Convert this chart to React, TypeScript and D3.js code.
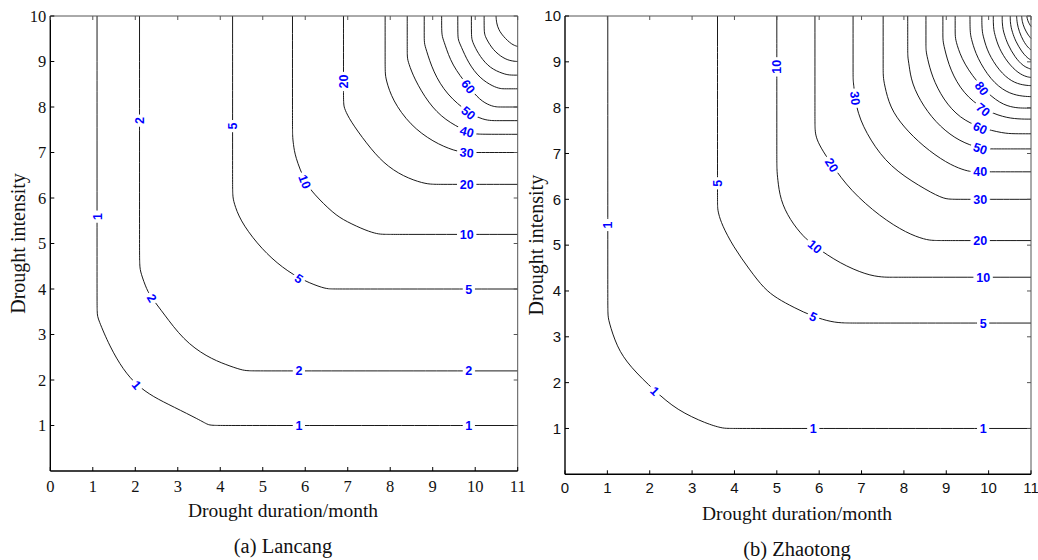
import * as d3 from 'd3'

// tick values shared by both panels
const xTickValues = [0, 1, 2, 3, 4, 5, 6, 7, 8, 9, 10, 11]
const yTickValues = [1, 2, 3, 4, 5, 6, 7, 8, 9, 10]

// (a) Lancang: return period contours, points are [duration, intensity]
const lancangLevels = [1, 2, 5, 10, 20, 30, 40, 50, 60, 70, 80, 90, 100]
const lancangLines: number[][][] = [
  [[1.1, 10], [1.1, 4.0], [1.1, 3.45], [1.12, 3.35], [1.4, 2.73], [1.72, 2.22], [2.03, 1.89], [2.42, 1.63], [2.9, 1.41], [3.52, 1.12], [3.7, 1.02], [3.8, 1.0], [4.3, 1.0], [11, 1.0]],
  [[2.1, 10], [2.1, 5.0], [2.1, 4.5], [2.13, 4.35], [2.27, 3.98], [2.39, 3.8], [2.66, 3.47], [3.13, 2.88], [3.68, 2.51], [4.15, 2.33], [4.5, 2.22], [4.65, 2.2], [5.0, 2.2], [11, 2.2]],
  [[4.29, 10], [4.29, 6.4], [4.29, 6.05], [4.32, 5.9], [4.46, 5.52], [4.86, 5.0], [5.33, 4.56], [5.85, 4.23], [6.35, 4.04], [6.55, 4.0], [6.7, 4.0], [11, 4.0]],
  [[5.7, 10], [5.7, 7.7], [5.7, 7.35], [5.72, 7.2], [5.76, 6.91], [5.99, 6.36], [6.19, 6.1], [6.66, 5.66], [6.97, 5.48], [7.44, 5.28], [7.7, 5.21], [7.84, 5.2], [8.2, 5.2], [11, 5.2]],
  [[6.9, 10], [6.9, 8.4], [6.9, 8.05], [6.93, 7.95], [7.05, 7.71], [7.44, 7.2], [7.84, 6.76], [8.31, 6.47], [8.78, 6.32], [9.0, 6.3], [9.2, 6.3], [11, 6.3]],
  [[7.88, 10], [7.88, 9.1], [7.88, 8.75], [7.9, 8.6], [8.05, 8.15], [8.47, 7.6], [9.01, 7.23], [9.52, 7.03], [9.8, 7.0], [9.9, 7.0], [11, 7.0]],
  [[8.4, 10], [8.4, 9.3], [8.4, 9.08], [8.43, 8.97], [8.56, 8.63], [8.9, 8.08], [9.29, 7.71], [9.8, 7.46], [10.0, 7.41], [10.1, 7.4], [11, 7.4]],
  [[8.8, 10], [8.8, 9.6], [8.8, 9.4], [8.84, 9.28], [9.01, 8.77], [9.33, 8.27], [9.84, 7.87], [10.19, 7.72], [10.4, 7.7], [10.5, 7.7], [11, 7.7]],
  [[9.21, 10], [9.21, 9.7], [9.22, 9.55], [9.28, 9.4], [9.45, 8.92], [9.84, 8.45], [10.11, 8.15], [10.35, 8.03], [10.5, 8.0], [10.6, 8.0], [11, 8.0]],
  [[9.59, 10], [9.59, 9.6], [9.6, 9.47], [9.66, 9.35], [9.84, 8.96], [10.11, 8.63], [10.42, 8.45], [10.6, 8.4], [10.7, 8.4], [11, 8.4]],
  [[9.91, 10], [9.91, 9.6], [9.92, 9.48], [9.97, 9.36], [10.11, 9.11], [10.35, 8.85], [10.66, 8.73], [10.8, 8.7], [11, 8.7]],
  [[10.21, 10], [10.21, 9.7], [10.22, 9.6], [10.26, 9.5], [10.42, 9.25], [10.66, 9.07], [10.85, 9.01], [11, 9.0]],
  [[10.49, 10], [10.5, 9.85], [10.55, 9.7], [10.66, 9.55], [10.86, 9.37], [11, 9.33]],
]
// [level, duration, intensity]
const lancangLabels = [
  [1, 1.1, 5.59], [1, 2.03, 1.89], [1, 5.85, 1.0], [1, 9.85, 1.0],
  [2, 2.1, 7.7], [2, 2.39, 3.8], [2, 5.85, 2.2], [2, 9.85, 2.2],
  [5, 4.29, 7.58], [5, 5.85, 4.23], [5, 9.85, 4.0],
  [10, 5.99, 6.36], [10, 9.8, 5.2],
  [20, 6.9, 8.56], [20, 9.8, 6.3],
  [30, 9.8, 7.0], [40, 9.8, 7.44], [50, 9.84, 7.87], [60, 9.84, 8.45],
]

// (b) Zhaotong
const zhaotongLevels = [1, 5, 10, 20, 30, 40, 50, 60, 70, 80, 90, 100, 110, 120, 130, 140, 150, 160]
const zhaotongLines: number[][][] = [
  [[1.01, 10], [1.01, 4.0], [1.01, 3.48], [1.03, 3.35], [1.22, 2.78], [1.53, 2.35], [2.12, 1.82], [2.64, 1.4], [3.35, 1.1], [3.7, 1.01], [3.82, 1.0], [4.3, 1.0], [11, 1.0]],
  [[3.6, 10], [3.6, 6.0], [3.6, 5.82], [3.62, 5.7], [3.7, 5.45], [3.97, 4.97], [4.36, 4.46], [4.7, 4.05], [5.0, 3.84], [5.4, 3.64], [5.86, 3.44], [6.3, 3.32], [6.6, 3.3], [6.9, 3.3], [11, 3.3]],
  [[5.0, 10], [5.0, 7.0], [5.0, 6.65], [5.02, 6.45], [5.08, 5.99], [5.31, 5.55], [5.63, 5.18], [5.9, 4.97], [6.49, 4.6], [7.12, 4.35], [7.5, 4.3], [7.7, 4.3], [8.0, 4.3], [11, 4.3]],
  [[5.9, 10], [5.9, 7.8], [5.9, 7.5], [5.93, 7.35], [6.02, 7.15], [6.3, 6.75], [6.73, 6.2], [7.44, 5.62], [8.07, 5.26], [8.5, 5.12], [8.7, 5.1], [9.0, 5.1], [11, 5.1]],
  [[6.8, 10], [6.8, 8.8], [6.8, 8.6], [6.82, 8.45], [6.89, 7.88], [7.2, 7.29], [7.67, 6.71], [8.38, 6.28], [8.9, 6.02], [9.1, 6.0], [9.4, 6.0], [11, 6.0]],
  [[7.51, 10], [7.51, 8.9], [7.51, 8.68], [7.54, 8.5], [7.67, 8.0], [7.99, 7.58], [8.46, 7.15], [9.01, 6.79], [9.4, 6.64], [9.6, 6.6], [9.8, 6.6], [11, 6.6]],
  [[8.09, 10], [8.09, 9.3], [8.09, 9.1], [8.12, 8.95], [8.18, 8.53], [8.46, 8.02], [8.85, 7.58], [9.32, 7.26], [9.8, 7.11], [10.0, 7.1], [10.2, 7.1], [11, 7.1]],
  [[8.52, 10], [8.52, 9.4], [8.52, 9.25], [8.55, 9.1], [8.66, 8.68], [8.93, 8.17], [9.32, 7.77], [9.8, 7.56], [10.35, 7.44], [10.6, 7.43], [11, 7.43]],
  [[8.92, 10], [8.92, 9.6], [8.92, 9.47], [8.95, 9.32], [9.09, 8.82], [9.4, 8.31], [9.87, 7.96], [10.35, 7.79], [10.7, 7.75], [11, 7.75]],
  [[9.21, 10], [9.21, 9.7], [9.21, 9.55], [9.24, 9.4], [9.4, 8.97], [9.84, 8.42], [10.28, 8.08], [10.6, 8.0], [10.8, 7.99], [11, 7.99]],
  [[9.56, 10], [9.56, 9.75], [9.57, 9.6], [9.6, 9.47], [9.72, 9.1], [10.05, 8.6], [10.42, 8.33], [10.75, 8.25], [11, 8.24]],
  [[9.84, 10], [9.84, 9.8], [9.85, 9.65], [9.88, 9.53], [9.98, 9.2], [10.25, 8.8], [10.55, 8.56], [10.82, 8.49], [11, 8.48]],
  [[10.11, 10], [10.11, 9.85], [10.12, 9.7], [10.15, 9.58], [10.24, 9.3], [10.45, 8.98], [10.7, 8.75], [10.9, 8.67], [11, 8.66]],
  [[10.32, 10], [10.32, 9.85], [10.34, 9.7], [10.37, 9.6], [10.45, 9.38], [10.62, 9.1], [10.82, 8.9], [11, 8.84]],
  [[10.51, 10], [10.51, 9.88], [10.53, 9.75], [10.56, 9.65], [10.63, 9.46], [10.78, 9.22], [10.92, 9.08], [11, 9.04]],
  [[10.66, 10], [10.67, 9.85], [10.72, 9.66], [10.82, 9.45], [10.93, 9.31], [11, 9.26]],
  [[10.78, 10], [10.79, 9.88], [10.84, 9.74], [10.92, 9.6], [11, 9.51]],
  [[10.9, 10], [10.92, 9.9], [10.96, 9.83], [11, 9.77]],
]
const zhaotongLabels = [
  [1, 1.01, 5.44], [1, 2.12, 1.82], [1, 5.86, 1.0], [1, 9.87, 1.0],
  [5, 3.6, 6.35], [5, 5.86, 3.44], [5, 9.87, 3.3],
  [10, 5.0, 8.89], [10, 5.9, 4.97], [10, 9.87, 4.3],
  [20, 6.3, 6.75], [20, 9.8, 5.1],
  [30, 6.8, 8.2], [30, 9.8, 6.0],
  [40, 9.8, 6.6], [50, 9.8, 7.11], [60, 9.8, 7.56], [70, 9.87, 7.96], [80, 9.84, 8.42],
]

const SERIF = '"Liberation Serif", "Times New Roman", serif'
const SANS = '"Liberation Sans", Arial, sans-serif'

// snap a label to the nearest spot on the polyline and get its angle
function placeLabel(pts: number[][], px: number, py: number) {
  let best = { d: Infinity, x: px, y: py, a: 0 }
  for (let i = 0; i < pts.length - 1; i++) {
    const [x0, y0] = pts[i]
    const [x1, y1] = pts[i + 1]
    const dx = x1 - x0
    const dy = y1 - y0
    const len2 = dx * dx + dy * dy || 1
    let t = ((px - x0) * dx + (py - y0) * dy) / len2
    t = Math.max(0, Math.min(1, t))
    const qx = x0 + t * dx
    const qy = y0 + t * dy
    const d = (qx - px) ** 2 + (qy - py) ** 2
    if (d < best.d) {
      let a = (Math.atan2(dy, dx) * 180) / Math.PI
      if (a >= 90) a -= 180
      if (a < -90) a += 180
      best = { d, x: qx, y: qy, a }
    }
  }
  return best
}

function Panel({ levels, lines, labels, xPx, yPx, tickFont, tickSize, tickDy, caption, titleX, yTitleOff }) {
  const x = d3.scaleLinear().domain([0, 11]).range(xPx)
  const y = d3.scaleLinear().domain([0, 10]).range(yPx)
  const line = d3.line<number[]>()
    .x(d => x(d[0]))
    .y(d => y(d[1]))
    .curve(d3.curveBasis)

  const [x0, x1] = xPx
  const [yB, yT] = yPx
  const tick = 4

  return (
    <g>
      {/* contour lines */}
      {lines.map((pts, i) => (
        <path key={levels[i]} d={line(pts) || ''} fill="none" stroke="#000" strokeWidth={0.9} />
      ))}

      {/* inline labels */}
      {labels.map(([lv, lx, ly], i) => {
        const pts = lines[levels.indexOf(lv)].map(p => [x(p[0]), y(p[1])])
        const p = placeLabel(pts, x(lx), y(ly))
        const txt = String(lv)
        const w = txt.length * 7.2 + 5
        return (
          <g key={i} transform={`translate(${p.x},${p.y}) rotate(${p.a})`}>
            <rect x={-w / 2} y={-6} width={w} height={12} fill="#fff" />
            <text textAnchor="middle" dy="0.36em" fontFamily={SANS} fontWeight="bold"
              fontSize={12.5} fill="#0000ff">{txt}</text>
          </g>
        )
      })}

      {/* frame */}
      <line x1={x0} x2={x1} y1={yT} y2={yT} stroke="#555" strokeWidth={1} />
      <line x1={x1} x2={x1} y1={yT} y2={yB} stroke="#555" strokeWidth={1} />
      <line x1={x0} x2={x1} y1={yB} y2={yB} stroke="#000" strokeWidth={1.4} />
      <line x1={x0} x2={x0} y1={yT} y2={yB} stroke="#000" strokeWidth={1.4} />

      {/* ticks */}
      {xTickValues.map(t => (
        <g key={'x' + t}>
          <line x1={x(t)} x2={x(t)} y1={yB} y2={yB - tick} stroke="#000" />
          <line x1={x(t)} x2={x(t)} y1={yT} y2={yT + tick} stroke="#555" />
          <text x={x(t)} y={yB + tickDy} textAnchor="middle" fontFamily={tickFont}
            fontSize={tickSize} fill="#111">{t}</text>
        </g>
      ))}
      {yTickValues.map(t => (
        <g key={'y' + t}>
          <line x1={x0} x2={x0 + tick} y1={y(t)} y2={y(t)} stroke="#000" />
          <line x1={x1} x2={x1 - tick} y1={y(t)} y2={y(t)} stroke="#555" />
          <text x={x0 - 4} y={y(t)} dy="0.35em" textAnchor="end" fontFamily={tickFont}
            fontSize={tickSize} fill="#111">{t}</text>
        </g>
      ))}

      {/* titles */}
      <text transform={`translate(${x0 - yTitleOff},${(yT + yB) / 2}) rotate(-90)`} textAnchor="middle"
        fontFamily={SERIF} fontSize={20} fill="#111">Drought intensity</text>
      <text x={titleX} y={yB + 46} textAnchor="middle" fontFamily={SERIF} fontSize={19.5}
        fill="#111">Drought duration/month</text>
      <text x={titleX} y={yB + 82} textAnchor="middle" fontFamily={SERIF} fontSize={20.5}
        fill="#111">{caption}</text>
    </g>
  )
}

export default function App() {
  return (
    <svg width={1038} height={560} style={{ position: 'absolute', left: 0, top: 0, background: '#fff' }}>
      <rect width={1038} height={560} fill="#fff" />
      <Panel levels={lancangLevels} lines={lancangLines} labels={lancangLabels}
        xPx={[50.3, 517.7]} yPx={[471, 16]} tickFont={SERIF} tickSize={16.5} tickDy={21}
        caption="(a) Lancang" titleX={283} yTitleOff={25} />
      <Panel levels={zhaotongLevels} lines={zhaotongLines} labels={zhaotongLabels}
        xPx={[565, 1031]} yPx={[474.3, 16]} tickFont={SANS} tickSize={15} tickDy={19}
        caption="(b) Zhaotong" titleX={797} yTitleOff={22} />
    </svg>
  )
}
